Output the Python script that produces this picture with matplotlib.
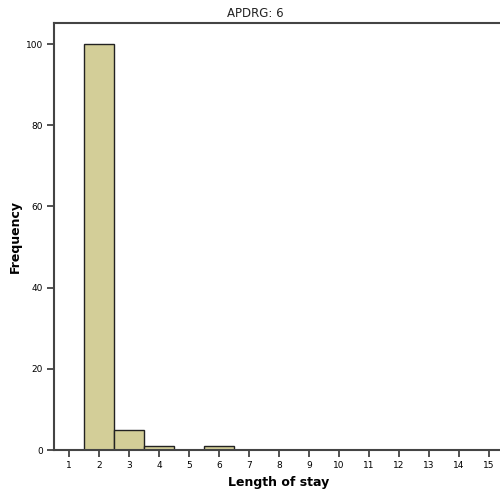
import matplotlib
matplotlib.use('Agg')
import matplotlib.pyplot as plt

# histogram of length of stay for APDRG 6
stay_days = [1, 2, 3, 4, 5, 6]
frequency = [0, 100, 5, 1, 0, 1]
x_ticks = list(range(1, 16))
y_ticks = [0, 20, 40, 60, 80, 100]

fig = plt.figure(figsize=(5.0, 4.96), dpi=100)
ax = fig.add_axes([0.108, 0.0927, 0.9, 0.861])

ax.bar(stay_days, frequency, width=1.0, color='#d3ce98', edgecolor='#222222', linewidth=1.0)

ax.set_xlim(0.5, 15.5)
ax.set_ylim(0, 105.2)
ax.set_xticks(x_ticks)
ax.set_yticks(y_ticks)
ax.tick_params(axis='both', labelsize=6.5, length=5, width=1.2, color='#333333', pad=3)
for side in ['left', 'top', 'bottom', 'right']:
  ax.spines[side].set_linewidth(1.5)
  ax.spines[side].set_color('#444444')

ax.set_xlabel("Length of stay", fontsize=9, fontweight='bold', labelpad=4)
ax.set_ylabel("Frequency", fontsize=9, fontweight='bold', labelpad=3)
fig.text(0.51, 0.972, "APDRG: 6", ha='center', va='center', fontsize=8.5, color='#222222')

fig.savefig('out.png', dpi=100)
